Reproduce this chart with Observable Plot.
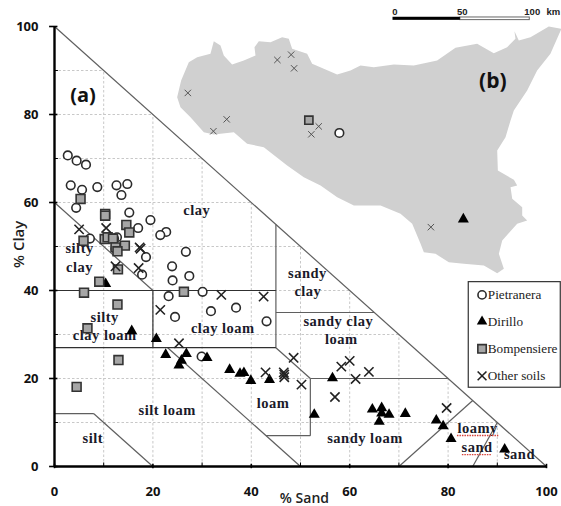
<!DOCTYPE html>
<html><head><meta charset="utf-8">
<script src="https://cdn.jsdelivr.net/npm/d3@7"></script>
<script src="https://cdn.jsdelivr.net/npm/@observablehq/plot@0.6"></script>
<style>
html,body{margin:0;padding:0;background:#fff;overflow:hidden}
.lab text{letter-spacing:.5px}
</style></head><body><div id="c"></div>
<script>
// [% sand, % clay]
const pietranera = [[2.7,70.7],[4.5,69.5],[6.4,68.6],[3.3,63.9],[5.6,62.9],[8.7,63.5],[12.6,63.9],[14.8,64.2],[13.6,61.7],[4.4,58.8],[15.2,57.7],[19.5,56],[17,54.2],[22.7,53.3],[21.5,52.6],[12.7,52.1],[7.2,51.8],[26.7,48.8],[18.6,47.6],[23.9,45.5],[17.8,43.6],[27.4,43.3],[24,42.3],[23.2,38.7],[30.1,39.7],[31.8,35.3],[36.9,36.1],[24.5,34],[43.1,33],[29.9,25],[12.1,51.8],[12.4,49.5]];
const dirillo = [[10.4,41.5],[15.7,30.8],[20.7,29],[22.6,25.4],[26.8,25.6],[25.8,24.1],[25.3,23],[31,24.7],[35.6,22],[37.7,21.1],[38.5,21.3],[39.9,19.5],[43.7,19.7],[52.8,11.8],[56.5,20.1],[64.6,13],[66.5,13.3],[66.5,12.1],[68,11.8],[66,10.2],[71.3,12],[77.6,10.5],[79,9.2],[80.6,6.3],[91.5,3.9]];
const bompensiere = [[5.3,60.8],[10.3,57.4],[10.3,57],[14.6,54.9],[15.2,53.2],[5.9,51.3],[10.2,51.7],[10.8,52.1],[11.9,51.8],[14.3,50.2],[12.4,49.8],[12.8,48.9],[12.9,44.8],[9.1,42],[6,39.5],[26.3,39.7],[12.8,36.8],[6.7,31.4],[13,24.2],[4.5,18.1]];
const otherSoils = [[5,53.9],[10.5,54.2],[17.3,49.8],[17.5,49.5],[12.4,45.5],[17.1,45.1],[33.9,39],[42.5,38.6],[21.5,35.6],[25.3,28],[42.9,21.4],[46.6,21.4],[46.7,20.9],[46.7,20.3],[50.2,18.6],[48.6,24.7],[58.3,22.7],[60,24],[61.2,19.9],[63.9,21.5],[57,15.8],[79.7,13.3]];

// soil texture class boundaries [sand1, clay1, sand2, clay2]
const darkBoundaries = [[0,40,45,40],[0,27,45,27],[20,40,20,27]];
const grayBoundaries = [[0,100,100,0],[0,60,20,40],[45,55,45,27],[45,35,65,35],[45,27,52,20],[52,20,80,20],[52,20,52,7],[52,7,43,7],[23,27,50,0],[70,0,85,15],[85,0,90,10],[0,12,8,12],[8,12,20,0]];

const classLabels = [
  ["clay",28.9,58.2],["silty",5.1,49.5],["clay",5.1,45.3],["silty",10.2,33.9],["clay loam",10.2,29.9],
  ["clay loam",34.2,31.3],["sandy",51.4,44],["clay",51.5,39.8],["sandy clay",57.7,33],["loam",58.3,29],
  ["loam",44.4,14.4],["silt loam",22.9,12.7],["silt",7.8,6.4],["sandy loam",63.1,6.3],["loamy",86,8.7],["sand",85.9,4.4],["sand",94.5,2.7]
];
// spell-check marks under the two words, [sand1, sand2, clay]
const spellMarks = [[81.9,90.3,7.05],[82.9,89,2.7]];

const gridLevels = [10,20,30,40,50,60,70,80,90];
const majorTicks = [0,20,40,60,80,100];
const minorTicks = [10,30,50,70,90];

// Sicily inset, expressed in the chart's own units
const sicilyX = [24.93,25.74,27.3,29,31.7,32.38,33.74,34.41,36.1,38.48,40.85,40.65,41.53,43.9,46.27,47.62,48.3,51.35,52.37,54.74,57.45,60.16,62.19,64.9,68.97,73.03,77.77,81.5,85.9,89.29,92,93.69,93.49,94.37,96.74,100.47,103.04,100.8,98.1,96.07,93.36,92.69,91.67,89.98,90.11,93.37,94.04,92.69,93.03,95.06,95.06,96.07,94.04,91,90.32,91.33,89.98,87.27,83.2,80.15,77.44,75.07,74.4,72.7,70.33,66.27,60.85,57.46,54.07,50.67,47.29,42.54,39.15,36.45,32.38,30.35,27.64,25.6];
const sicilyY = [83.94,87.73,91.9,93.03,93.79,96.67,95.68,93.41,91.36,92.27,93.41,95.3,96.67,96.44,97.58,97.2,94.92,93.79,91.52,90.38,89.09,90,91.14,90.76,91.36,91.14,92.27,95.15,96.06,93.94,95.3,97.2,98.94,96.82,97.58,100,99.47,93.8,90,85.45,80.91,78.64,74.85,71.82,67.28,65.15,63.87,63.49,60.84,58.94,57.05,55.91,55.15,51.37,48.34,44.93,43.94,45.68,46.06,46.44,48.34,48.71,50.61,55.15,57.42,59.32,59.32,61.22,63.87,65.76,68.41,72.58,73.33,75.98,75.45,75.98,79.39,81.67];
const mapOther = [[27.1,84.9],[35,78.9],[32.3,76.2],[45.3,92.4],[48.1,93.6],[48.7,90.5],[53.7,77.3],[52.2,75.5],[76.5,54.4]];
const mapBompensiere = [[51.7,78.7]];
const mapPietranera = [[57.9,75.8]];
const mapDirillo = [[83.1,56.2]];

const scaleTicks = [["0",69.2],["50",82.9],["100",97.1],["km",101.4]];
const scaleBlack = [68.8,82.5];
const scaleWhite = [82.5,96.6];
const scaleLevel = 101.75;
const scaleTextLevel = 103.4;

const legendNames = ["Pietranera","Dirillo","Bompensiere","Other soils"];
const legendLevels = [39,32.95,26.75,20.6];
const legendMarkX = 86.9;
const legendTextX = 88.07;
const legendBox = {x1:84.2,x2:102.9,y1:17.9,y2:41.9};

const X = d => d[0], Y = d => d[1];
const SERIF = "'Liberation Serif'", SANS = "'Open Sans'";
const circleStyle = {symbol:"circle",r:4.3,fill:"#fff",stroke:"#2b2b2b",strokeWidth:1.6};
const triStyle = {symbol:"triangle",r:4.1,fill:"#000",stroke:"none"};
const squareStyle = {symbol:"square",r:5,fill:"#a6a6a6",stroke:"#333",strokeWidth:1.6};
const timesStyle = {symbol:"times",r:4.3,stroke:"#222",strokeWidth:1.6};
const labelText = {fontFamily:SERIF,fontWeight:"bold",fontSize:14.5,fill:"#1a1a2a",textAnchor:"middle",className:"lab"};
const legendSymbols = [circleStyle,triStyle,squareStyle,timesStyle];

const chart = Plot.plot({
  width:561,height:506,marginLeft:54,marginRight:15,marginTop:26,marginBottom:40,
  style:{background:"#fff",overflow:"visible"},
  x:{domain:[0,100],axis:null},
  y:{domain:[0,100],axis:null},
  marks:[
    // inset map
    Plot.line(d3.range(sicilyX.length).concat(0),{x:i=>sicilyX[i],y:i=>sicilyY[i],fill:"#d0d0d0",stroke:"none"}),
    // grid clipped to the triangle
    Plot.ruleX(gridLevels,{y1:0,y2:d=>100-d,stroke:"#c8c8c8",strokeWidth:1,strokeDasharray:"2.5,2"}),
    Plot.ruleY(gridLevels,{x1:0,x2:d=>100-d,stroke:"#c8c8c8",strokeWidth:1,strokeDasharray:"2.5,2"}),
    // class boundaries
    Plot.link(grayBoundaries,{x1:d=>d[0],y1:d=>d[1],x2:d=>d[2],y2:d=>d[3],stroke:"#5f5f5f",strokeWidth:1.2}),
    Plot.link(darkBoundaries,{x1:d=>d[0],y1:d=>d[1],x2:d=>d[2],y2:d=>d[3],stroke:"#303030",strokeWidth:1.2}),
    // axes
    Plot.ruleX([0],{y1:0,y2:100,stroke:"#000",strokeWidth:2.4}),
    Plot.ruleY([0],{x1:0,x2:100,stroke:"#000",strokeWidth:2.4}),
    Plot.ruleY(majorTicks,{x1:-1,x2:0.7,stroke:"#000",strokeWidth:1.6}),
    Plot.ruleX(majorTicks,{y1:-0.5,y2:0.5,stroke:"#000",strokeWidth:1.6}),
    Plot.ruleY(minorTicks,{x1:0,x2:0.8,stroke:"#000",strokeWidth:1}),
    Plot.ruleX(minorTicks,{y1:0,y2:0.8,stroke:"#000",strokeWidth:1}),
    Plot.text(majorTicks,{x:0,y:d=>d,text:d=>String(d),dx:-16,textAnchor:"end",fontFamily:SANS,fontWeight:"bold",fontSize:13,fill:"#111"}),
    Plot.text(majorTicks,{x:d=>d,y:0,text:d=>String(d),dy:25,fontFamily:SANS,fontWeight:"bold",fontSize:13,fill:"#111"}),
    Plot.text(["% Clay"],{x:-7.1,y:50.5,rotate:-90,fontFamily:SANS,fontWeight:600,fontSize:15,fill:"#222"}),
    Plot.text(["% Sand"],{x:50.8,y:0,dy:32,fontFamily:SANS,fontWeight:600,fontSize:14,fill:"#222"}),
    // class labels
    Plot.text(classLabels,{x:d=>d[1],y:d=>d[2],text:d=>d[0],...labelText}),
    Plot.ruleY(spellMarks,{y:d=>d[2],x1:d=>d[0],x2:d=>d[1],stroke:"#d8423a",strokeWidth:1.3,strokeDasharray:"1.5,1"}),
    // points
    Plot.dot(pietranera,{x:X,y:Y,...circleStyle}),
    Plot.dot(dirillo,{x:X,y:Y,...triStyle}),
    Plot.dot(bompensiere,{x:X,y:Y,...squareStyle}),
    Plot.dot(otherSoils,{x:X,y:Y,...timesStyle}),
    // map points
    Plot.dot(mapOther,{x:X,y:Y,symbol:"times",r:3,stroke:"#555",strokeWidth:1}),
    Plot.dot(mapBompensiere,{x:X,y:Y,...squareStyle,r:4.6}),
    Plot.dot(mapPietranera,{x:X,y:Y,...circleStyle}),
    Plot.dot(mapDirillo,{x:X,y:Y,...triStyle}),
    // panel letters
    Plot.text(["(a)"],{x:5.8,y:84.2,fontFamily:SANS,fontWeight:"bold",fontSize:20,fill:"#111"}),
    Plot.text(["(b)"],{x:89.1,y:87.5,fontFamily:SANS,fontWeight:"bold",fontSize:21,fill:"#111"}),
    // scale bar
    Plot.rect([scaleWhite],{x1:d=>d[0],x2:d=>d[1],y1:scaleLevel-0.3,y2:scaleLevel+0.3,fill:"#fff",stroke:"#666",strokeWidth:1}),
    Plot.rect([scaleBlack],{x1:d=>d[0],x2:d=>d[1],y1:scaleLevel-0.35,y2:scaleLevel+0.35,fill:"#000"}),
    Plot.text(scaleTicks,{x:d=>d[1],y:scaleTextLevel,text:d=>d[0],fontFamily:"'Liberation Sans'",fontWeight:"bold",fontSize:9.5,fill:"#222"}),
    // legend
    Plot.rect([legendBox],{x1:"x1",x2:"x2",y1:"y1",y2:"y2",fill:"#fff",stroke:"#333",strokeWidth:1.2}),
    ...legendNames.map((n,i)=>Plot.dot([n],{x:legendMarkX,y:legendLevels[i],...legendSymbols[i],r:legendSymbols[i].r*0.95})),
    Plot.text(legendNames,{x:legendTextX,y:(d,i)=>legendLevels[i],text:d=>d,textAnchor:"start",fontFamily:SERIF,fontSize:13.2,fill:"#222"})
  ]
});
document.getElementById("c").appendChild(chart);
</script></body></html>
